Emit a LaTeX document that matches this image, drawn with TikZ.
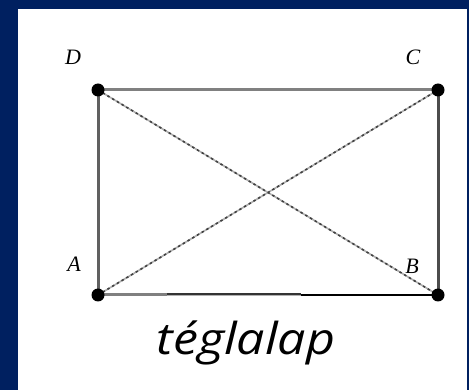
\documentclass[tikz,border=0pt]{standalone}
\usepackage{fontspec}
\usetikzlibrary{calc}
\newfontfamily\labfont{Liberation Serif}
\newfontfamily\capfont{Open Sans}
\definecolor{navy}{HTML}{002060}
\definecolor{edgegray}{HTML}{808080}
\definecolor{edgedark}{HTML}{606060}
\definecolor{edgelight}{HTML}{B0B0B0}
\begin{document}
\begin{tikzpicture}[x=1pt,y=-1pt,
  vertex/.style={circle,fill=black,inner sep=0pt,minimum size=13pt},
  vlabel/.style={font=\labfont\itshape\fontsize{22}{22}\selectfont,inner sep=0pt},
  side/.style={line width=3pt},
  diagbase/.style={line width=1.6pt,edgelight},
  diagdash/.style={line width=1.6pt,black!75,dash pattern=on 2.5pt off 3pt}]
\useasboundingbox (0,0) rectangle (469,390);
\fill[navy] (0,0) rectangle (469,390);
\fill[white] (18,9) rectangle (467,390);
\coordinate (A) at (98,295);
\coordinate (B) at (438,295);
\coordinate (C) at (438,90);
\coordinate (D) at (98,90);
% diagonals
\draw[diagbase] (A) -- (C);
\draw[diagdash] (A) -- (C);
\draw[diagbase] (D) -- (B);
\draw[diagdash] (D) -- (B);
% sides
\draw[side,edgegray] (D) -- (C);
\draw[side,edgedark] (D) -- (A);
\draw[side,black!70] (C) -- (B);
\coordinate (m1) at ($(A)!0.203!(B)$);
\coordinate (m2) at ($(A)!0.597!(B)$);
\draw[side,edgegray] (A) -- (m1);
\draw[side,edgelight] (m1) -- (m2);
\draw[line width=1.5pt,black!80] ([yshift=0.75pt]m1) -- ([yshift=0.75pt]m2);
\draw[line width=2pt,black] (m2) -- (B);
% vertices
\node[vertex] (vA) at (A) {};
\node[vertex] (vB) at (B) {};
\node[vertex] (vC) at (C) {};
\node[vertex] (vD) at (D) {};
% labels
\node[vlabel] (lA) at (74,264) {A};
\node[vlabel] (lB) at (412,266) {B};
\node[vlabel] (lC) at (413,57) {C};
\node[vlabel] (lD) at (73,57) {D};
\node[font=\capfont\itshape\fontsize{44}{44}\selectfont,anchor=base,inner sep=0pt,xscale=1.14] (title) at (246,355) {téglalap};
\end{tikzpicture}
\end{document}
